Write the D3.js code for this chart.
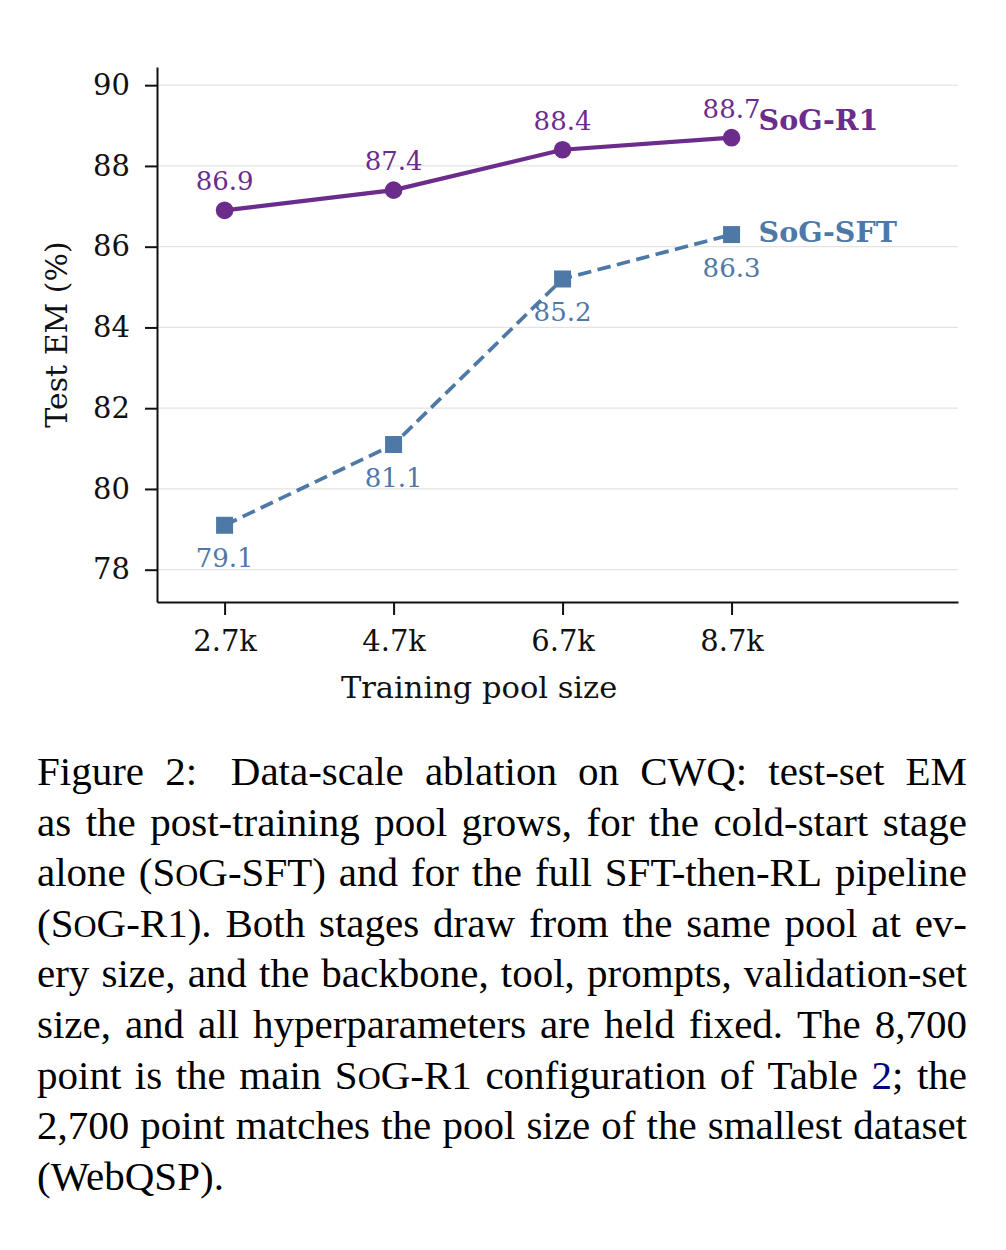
<!DOCTYPE html>
<html>
<head>
<meta charset="utf-8">
<script src="https://cdn.jsdelivr.net/npm/d3@7"></script>
<style>
  html, body { margin: 0; padding: 0; background: #ffffff; }
  svg { display: block; }
</style>
</head>
<body>
<svg id="chart" width="1006" height="1250"></svg>
<script>
// ---------------- data ----------------
const categories = ["2.7k", "4.7k", "6.7k", "8.7k"];
const r1Values = [86.9, 87.4, 88.4, 88.7];
const sftValues = [79.1, 81.1, 85.2, 86.3];
const yTicks = [78, 80, 82, 84, 86, 88, 90];
const seriesNames = ["SoG-R1", "SoG-SFT"];
const xAxisTitle = "Training pool size";
const yAxisTitle = "Test EM (%)";
const captionLines = [
  "Figure 2:  Data-scale ablation on CWQ: test-set EM",
  "as the post-training pool grows, for the cold-start stage",
  "alone (SoG-SFT) and for the full SFT-then-RL pipeline",
  "(SoG-R1). Both stages draw from the same pool at ev-",
  "ery size, and the backbone, tool, prompts, validation-set",
  "size, and all hyperparameters are held fixed. The 8,700",
  "point is the main SoG-R1 configuration of Table {2}; the",
  "2,700 point matches the pool size of the smallest dataset",
  "(WebQSP)."
];

// ---------------- styles ----------------
const purple = "#6b2c8c";
const blue = "#4e78a6";
const chartFont = "'DejaVu Serif', serif";
const captionFont = "'Liberation Serif', 'Times New Roman', serif";

const svg = d3.select("#chart");
svg.append("rect").attr("width", 1006).attr("height", 1250).attr("fill", "#fff");

const x = d3.scaleLinear().domain([-0.4, 4.34]).range([157, 958]);
const y = d3.scaleLinear().domain([77.2, 90.45]).range([602, 67]);

const g = svg.append("g");

// gridlines
g.selectAll("line.grid").data(yTicks).join("line")
  .attr("class", "grid")
  .attr("x1", x.range()[0]).attr("x2", x.range()[1])
  .attr("y1", d => y(d)).attr("y2", d => y(d))
  .attr("stroke", "#e3e3e3").attr("stroke-width", 1.3);

// y axis
const yAxis = g.append("g").attr("transform", `translate(${x.range()[0]},0)`)
  .call(d3.axisLeft(y).tickValues(yTicks).tickSize(12).tickPadding(15).tickSizeOuter(0).tickFormat(d3.format("d")));
yAxis.select(".domain").attr("stroke", "#111").attr("stroke-width", 2);
yAxis.selectAll(".tick line").attr("stroke", "#111").attr("stroke-width", 2);
yAxis.selectAll(".tick text").attr("font-family", chartFont).attr("font-size", 29).attr("fill", "#111");

// x axis
const xAxis = g.append("g").attr("transform", `translate(0,${y.range()[0]})`)
  .call(d3.axisBottom(x).tickValues(d3.range(categories.length)).tickSize(13).tickPadding(15).tickSizeOuter(0)
    .tickFormat(i => categories[i]));
xAxis.select(".domain").attr("stroke", "#111").attr("stroke-width", 2);
xAxis.selectAll(".tick line").attr("stroke", "#111").attr("stroke-width", 2);
xAxis.selectAll(".tick text").attr("font-family", chartFont).attr("font-size", 29).attr("fill", "#111");

// axis titles
g.append("text").attr("x", (x(0) + x(3)) / 2 + 1).attr("y", 698)
  .attr("text-anchor", "middle").attr("font-family", chartFont).attr("font-size", 30.5).attr("fill", "#111")
  .text(xAxisTitle);
g.append("text").attr("transform", `translate(67,${(y.range()[0] + y.range()[1]) / 2})rotate(-90)`)
  .attr("text-anchor", "middle").attr("font-family", chartFont).attr("font-size", 30).attr("fill", "#111")
  .text(yAxisTitle);

// lines
const line = d3.line().x((d, i) => x(i)).y(d => y(d));
g.append("path").datum(sftValues).attr("d", line)
  .attr("fill", "none").attr("stroke", blue).attr("stroke-width", 3.7).attr("stroke-dasharray", "13.5,6.5");
g.append("path").datum(r1Values).attr("d", line)
  .attr("fill", "none").attr("stroke", purple).attr("stroke-width", 4.2);

// markers
const sq = 17;
g.selectAll("rect.sft").data(sftValues).join("rect")
  .attr("class", "sft")
  .attr("x", (d, i) => x(i) - sq / 2).attr("y", d => y(d) - sq / 2)
  .attr("width", sq).attr("height", sq).attr("fill", blue);
g.selectAll("circle.r1").data(r1Values).join("circle")
  .attr("class", "r1")
  .attr("cx", (d, i) => x(i)).attr("cy", d => y(d)).attr("r", 8.8).attr("fill", purple);

// value labels
const fmt = d3.format(".1f");
g.selectAll("text.r1lab").data(r1Values).join("text")
  .attr("class", "r1lab")
  .attr("x", (d, i) => x(i)).attr("y", d => y(d) - 20)
  .attr("text-anchor", "middle").attr("font-family", chartFont).attr("font-size", 26).attr("fill", purple)
  .text(d => fmt(d));
g.selectAll("text.sftlab").data(sftValues).join("text")
  .attr("class", "sftlab")
  .attr("x", (d, i) => x(i)).attr("y", d => y(d) + 42)
  .attr("text-anchor", "middle").attr("font-family", chartFont).attr("font-size", 26).attr("fill", blue)
  .text(d => fmt(d));

// series name labels
const last = categories.length - 1;
g.append("text").attr("x", x(last) + 27).attr("y", y(r1Values[last]) - 8)
  .attr("font-family", chartFont).attr("font-weight", "bold").attr("font-size", 28.5).attr("fill", purple)
  .text(seriesNames[0]);
g.append("text").attr("x", x(last) + 27).attr("y", y(sftValues[last]) + 7)
  .attr("font-family", chartFont).attr("font-weight", "bold").attr("font-size", 28.5).attr("fill", blue)
  .text(seriesNames[1]);

// ---------------- caption (justified) ----------------
const capLeft = 37, capRight = 967, capTop = 785, capStep = 50.6, capSize = 41;
const cap = svg.append("g");

function buildWord(parent, word) {
  const t = parent.append("text")
    .attr("font-family", captionFont).attr("font-size", capSize).attr("fill", "#000");
  const re = /(SoG|\{[^}]*\})/g;
  let lastIdx = 0, m;
  while ((m = re.exec(word)) !== null) {
    if (m.index > lastIdx) t.append("tspan").text(word.slice(lastIdx, m.index));
    if (m[0] === "SoG") {
      t.append("tspan").text("S");
      t.append("tspan").attr("font-size", capSize * 0.78).text("O");
      t.append("tspan").text("G");
    } else {
      t.append("tspan").attr("fill", "#000080").text(m[0].slice(1, -1));
    }
    lastIdx = m.index + m[0].length;
  }
  if (lastIdx < word.length) t.append("tspan").text(word.slice(lastIdx));
  return t;
}

captionLines.forEach((ln, li) => {
  const baseY = capTop + li * capStep;
  const parts = ln.split(/( +)/);
  const words = [], gapWeights = [];
  parts.forEach(p => {
    if (/^ +$/.test(p)) gapWeights.push(p.length > 1 ? 1.6 : 1);
    else if (p.length) words.push(p);
  });
  const nodes = words.map(w => buildWord(cap, w));
  const widths = nodes.map(n => n.node().getComputedTextLength());
  const total = d3.sum(widths);
  const isLast = li === captionLines.length - 1;
  const wsum = d3.sum(gapWeights);
  let unit = isLast ? capSize * 0.25 : (capRight - capLeft - total) / wsum;
  if (unit < 4) unit = 4;
  let cx = capLeft;
  nodes.forEach((n, i) => {
    n.attr("x", cx).attr("y", baseY);
    cx += widths[i] + (i < gapWeights.length ? unit * gapWeights[i] : 0);
  });
});
</script>
</body>
</html>
